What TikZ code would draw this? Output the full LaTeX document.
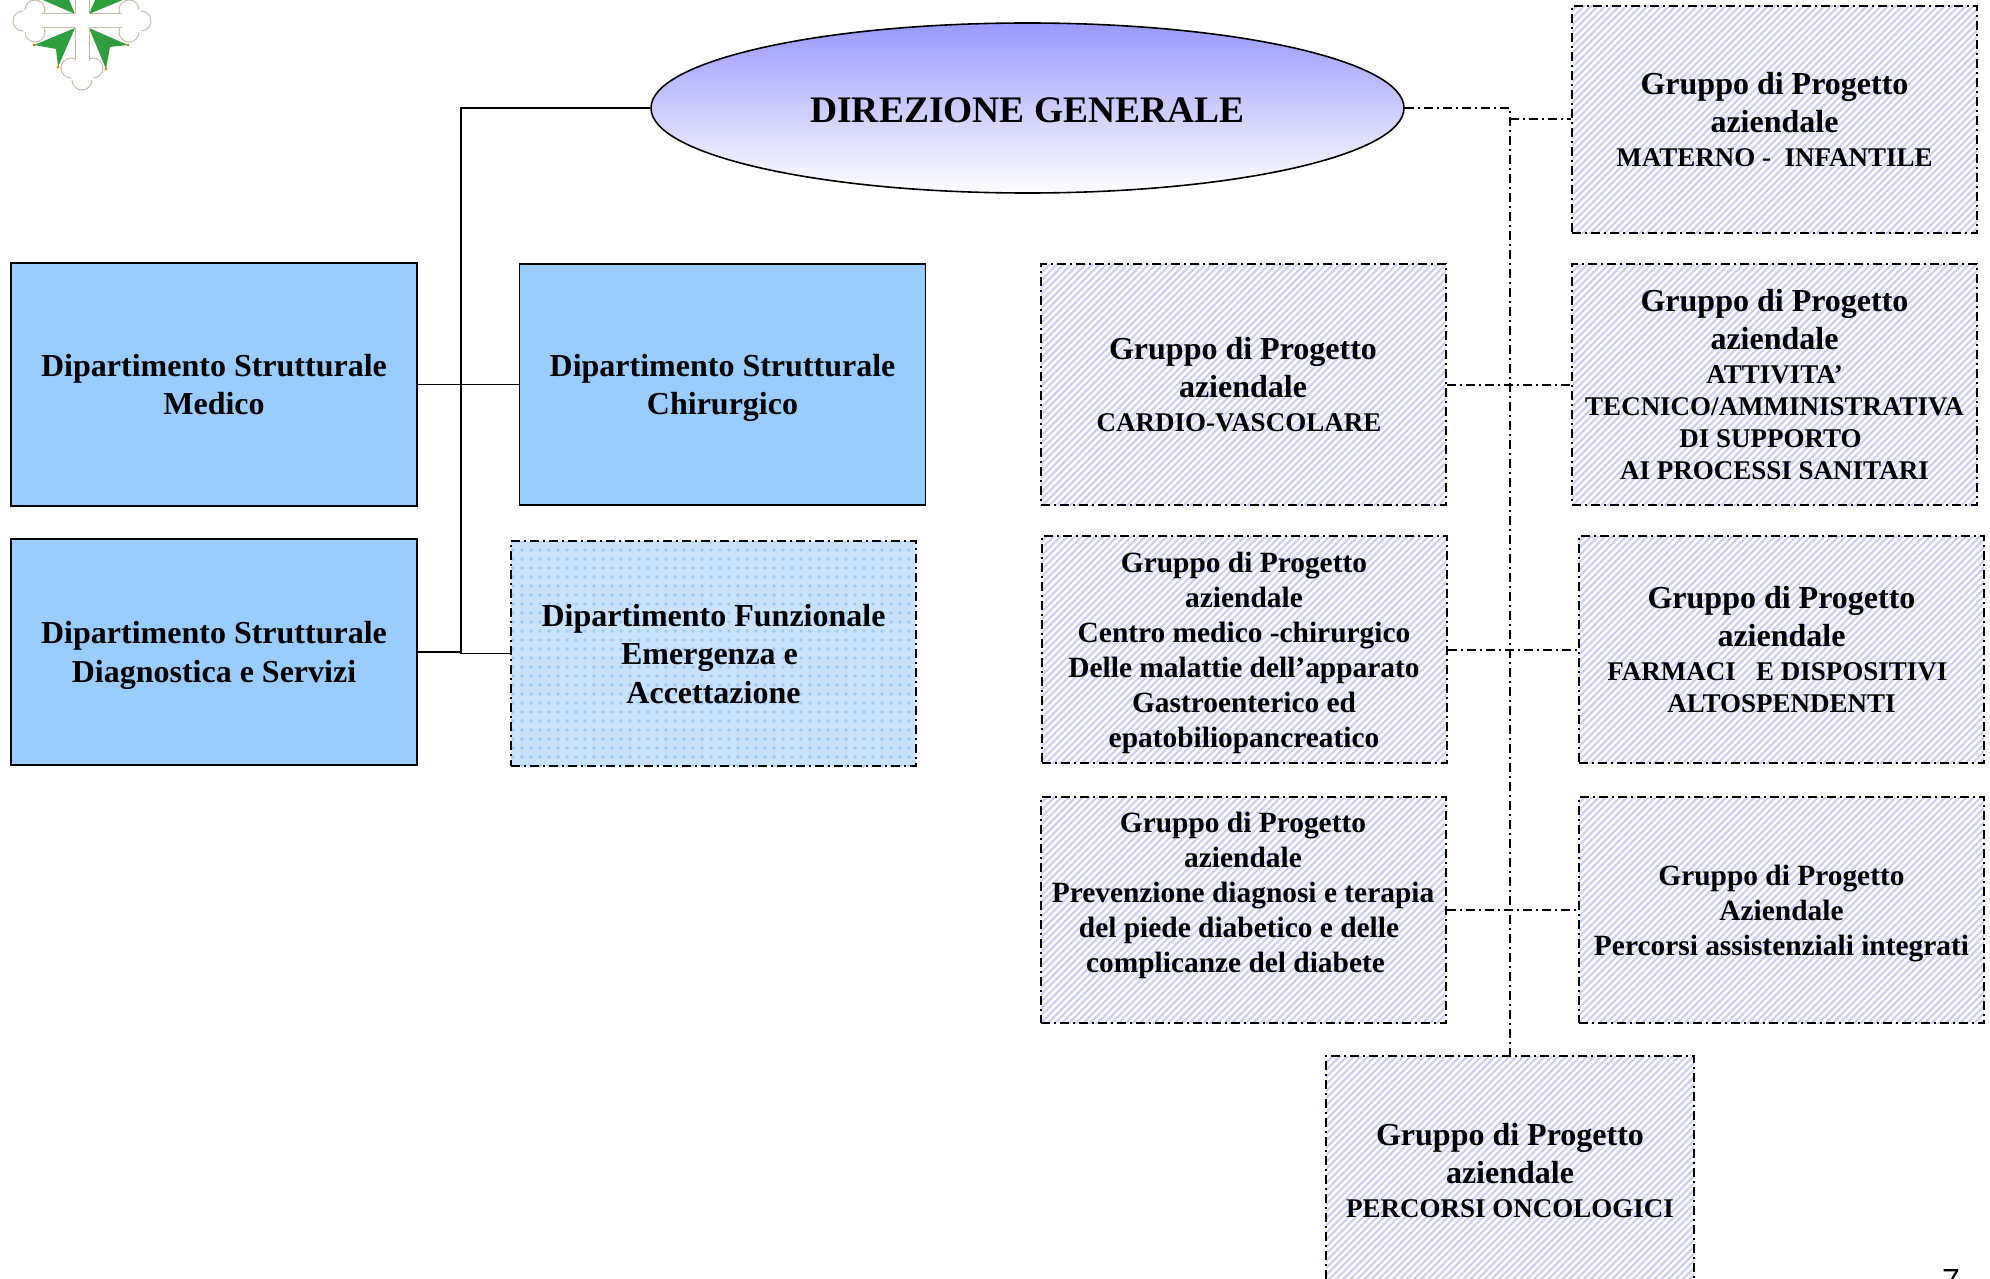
\documentclass[tikz,border=0pt]{standalone}
\usepackage{fontspec}
\setmainfont{Liberation Serif}
\setsansfont{Liberation Sans}
\usepackage{xcolor}
\usetikzlibrary{shapes.geometric,patterns.meta}
\definecolor{dipblue}{HTML}{99CCFF}
\definecolor{funblue}{HTML}{C8E2FF}
\definecolor{dotblue}{HTML}{99CCFF}
\definecolor{hatchblue}{HTML}{CBCEF7}
\definecolor{topblue}{HTML}{9999FF}
\definecolor{crossedge}{HTML}{C9BDA5}
\definecolor{crossgreen}{HTML}{2E9E3E}
\definecolor{crossgold}{HTML}{D08A20}
\newcommand{\subtxt}{\fontsize{27}{32}\selectfont}

\begin{document}
\begin{tikzpicture}[
    x=1pt, y=-1pt,
    every node/.style={align=center, inner sep=0pt, text=black},
    dashline/.style={line width=2pt, dash pattern=on 9pt off 4pt on 2pt off 4pt},
    busline/.style={line width=1.8pt},
    lowtext/.style={text depth=0pt, execute at begin node={\mbox{}\\[-.3em]}},
    direzione/.style={ellipse, draw, line width=1.6pt, minimum width=753pt, minimum height=170pt,
        top color=topblue, bottom color=white, text depth=0pt, execute at begin node=\rule{0pt}{.8em},
        font=\fontsize{37.5}{44}\selectfont\bfseries},
    dipbox/.style={rectangle, draw, line width=1.8pt, fill=dipblue, minimum width=406pt,
        lowtext, font=\fontsize{32}{38.5}\selectfont\bfseries},
    funbox/.style={rectangle, draw, dashline, minimum width=405pt, minimum height=225pt,
        preaction={fill=funblue},
        pattern={Dots[distance=9pt, radius=1.8pt]}, pattern color=dotblue,
        lowtext, font=\fontsize{32}{38.5}\selectfont\bfseries},
    gruppo/.style={rectangle, draw, dashline, minimum width=405pt,
        pattern={Lines[angle=45, distance=5pt, line width=2.2pt]}, pattern color=hatchblue,
        lowtext, font=\fontsize{32}{38}\selectfont\bfseries},
    gruppomid/.style={gruppo, font=\fontsize{29.4}{35}\selectfont\bfseries}
]
    \clip (0,0) rectangle (1990,1279);
    \useasboundingbox (0,0) rectangle (1990,1279);

    \begin{scope}[shift={(82,21)}]
        \foreach \a in {0,90,180,270} {
            \begin{scope}[rotate=\a]
                \draw [crossedge, fill=white, line width=1pt] (59,0) circle (10) (47,-11) circle (10) (47,11) circle (10);
                \fill [white] (38,-11) rectangle (59,11);
                \fill [crossgreen] (7,7) -- (46,24) -- (28,26) -- (24,48) -- cycle;
                \fill [crossgold] (46,24) circle (1.6) (24,48) circle (1.6);
                \draw [crossedge, line width=1pt] (7,-7) -- (40,-7) (7,7) -- (40,7);
                \fill [white] (0,-6.5) rectangle (49,6.5);
            \end{scope}
        }
    \end{scope}

    \node [direzione] (dirgen) at (1027.5,108) {DIREZIONE GENERALE};

    \node [dipbox, minimum height=243pt] (medico) at (214,384.5) {Dipartimento Strutturale\\Medico};
    \node [dipbox, minimum height=241pt] (chirurgico) at (722.5,384.5) {Dipartimento Strutturale\\Chirurgico};
    \node [dipbox, minimum height=226pt] (diagnostica) at (214,652) {Dipartimento Strutturale\\Diagnostica e Servizi};
    \node [funbox] (funzionale) at (713.5,653.5) {Dipartimento Funzionale\\Emergenza e\kern8pt\\Accettazione};

    \node [gruppo, minimum height=227pt] (materno) at (1774.5,119.5) {Gruppo di Progetto\\aziendale\\[-4pt]\subtxt MATERNO -\ \ INFANTILE};
    \node [gruppo, minimum height=241pt] (cardio) at (1243,384.5) {Gruppo di Progetto\\aziendale\\[-4pt]\subtxt CARDIO-VASCOLARE\kern8pt};
    \node [gruppo, minimum height=241pt] (attivita) at (1774.5,384.5) {Gruppo di Progetto\\aziendale\\[-4pt]\subtxt ATTIVITA'\\[-6pt]\subtxt TECNICO/AMMINISTRATIVA\\[-6pt]\subtxt DI SUPPORTO\kern8pt\\[-6pt]\subtxt AI PROCESSI SANITARI};
    \node [gruppomid, minimum height=227pt] (centro) at (1244,649.5) {Gruppo di Progetto\\aziendale\\Centro medico -chirurgico\\Delle malattie dell’apparato\\Gastroenterico ed\\epatobiliopancreatico};
    \node [gruppo, minimum height=227pt] (farmaci) at (1781.5,649.5) {Gruppo di Progetto\\aziendale\\[-4pt]\subtxt FARMACI\ \ \ E DISPOSITIVI\kern8pt\\[-6pt]\subtxt ALTOSPENDENTI};
    \node [gruppomid, minimum height=226pt] (prevenzione) at (1243,910) {Gruppo di Progetto\\aziendale\\Prevenzione diagnosi e terapia\\del piede diabetico e delle\kern8pt\\complicanze del diabete\kern15pt\\\mbox{}};
    \node [gruppomid, minimum height=226pt] (integrati) at (1781.5,910) {Gruppo di Progetto\\Aziendale\\Percorsi assistenziali integrati};
    \node [gruppo, minimum width=368pt, minimum height=228pt] (oncologici) at (1510,1170) {Gruppo di Progetto\\aziendale\\[-4pt]\subtxt PERCORSI ONCOLOGICI};

    \node [font=\sffamily\fontsize{32}{38}\selectfont, anchor=north] (pagina) at (1951,1269) {7};

    \coordinate (leftbus) at (461,108);
    \coordinate (spine) at (oncologici.north |- dirgen.east);

    \draw [busline, line width=2.4pt] (dirgen.west) -- (leftbus) -- (leftbus |- medico.east);
    \draw [busline] (leftbus |- medico.east) -- (leftbus |- funzionale.west);
    \draw [busline] (medico.east) -- (chirurgico.west);
    \draw [busline] (diagnostica.east) -- (diagnostica.east -| leftbus) -- (leftbus |- funzionale.west) -- (funzionale.west);

    \draw [dashline] (dirgen.east) -- (spine) -- (oncologici.north);
    \draw [dashline] (spine |- materno.west) -- (materno.west);
    \draw [dashline] (cardio.east) -- (attivita.west);
    \draw [dashline] (centro.east) -- (farmaci.west);
    \draw [dashline] (prevenzione.east) -- (integrati.west);
\end{tikzpicture}
\end{document}
